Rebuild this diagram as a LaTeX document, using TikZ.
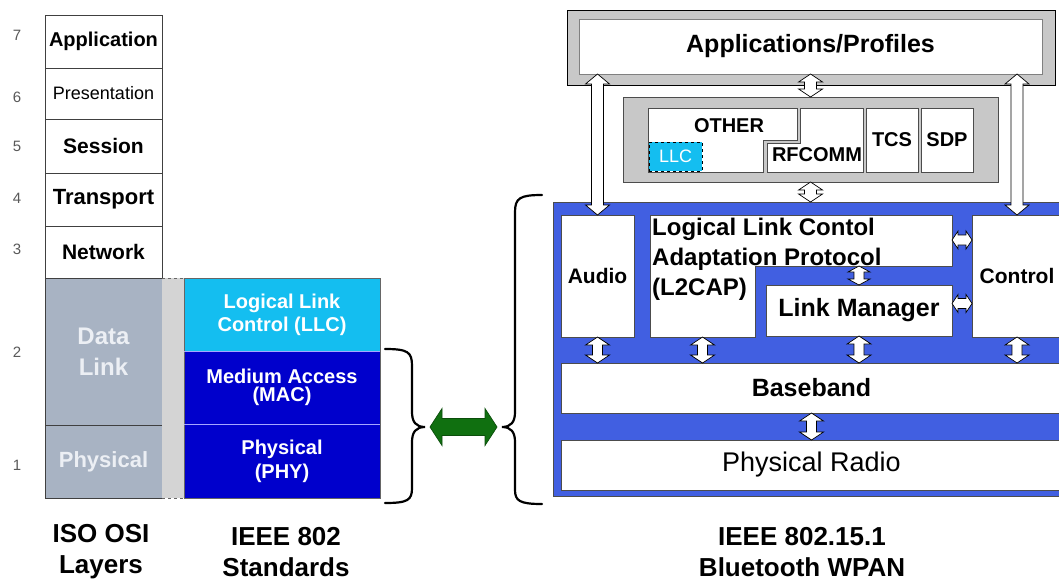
\documentclass[tikz,border=0pt]{standalone}
\usepackage{fontspec}
\setmainfont{Liberation Sans}
\usepackage{tikz}
\usetikzlibrary{calc}
\definecolor{osigray}{RGB}{168,179,195}
\definecolor{ositext}{RGB}{236,239,244}
\definecolor{stripgray}{RGB}{212,212,212}
\definecolor{llccyan}{RGB}{20,190,240}
\definecolor{macblue}{RGB}{0,0,204}
\definecolor{arrowgreen}{RGB}{16,112,16}
\definecolor{btblue}{RGB}{65,95,225}
\definecolor{framegray}{RGB}{200,200,200}
\tikzset{
    box/.style={draw=black!75, line width=0.8pt, anchor=north west, inner sep=0pt, outer sep=0pt, align=center},
    osi/.style={box, fill=white, minimum width=117pt},
    ieee/.style={box, draw=black!60, text=white, minimum width=196pt},
    wbox/.style={box, fill=white, draw=black!70},
    part/.style={fill=white, draw=black!70, line width=0.8pt},
    num/.style={text=black!65, font=\fontsize{15}{15}\selectfont},
    caption/.style={align=center, font=\bfseries\fontsize{26}{31}\selectfont},
    sepline/.style={draw=blue!35!white, line width=0.8pt},
    brace/.style={line width=2.2pt, line cap=round},
    fat/.style={draw=black, fill=white, line width=0.7pt, line join=miter}
}
% hollow double arrows: [style]{from}{to}{shaft half}{head half}{head length}
\newcommand{\vfat}[6][]{%
  \draw[fat,#1] let \p1=(#2), \p2=(#3) in
    (\x1,\y1) -- (\x1+#5pt,\y1-#6pt) -- (\x1+#4pt,\y1-#6pt) -- (\x1+#4pt,\y2+#6pt)
    -- (\x1+#5pt,\y2+#6pt) -- (\x1,\y2) -- (\x1-#5pt,\y2+#6pt) -- (\x1-#4pt,\y2+#6pt)
    -- (\x1-#4pt,\y1-#6pt) -- (\x1-#5pt,\y1-#6pt) -- cycle;}
\newcommand{\hfat}[6][]{%
  \draw[fat,#1] let \p1=(#2), \p2=(#3) in
    (\x1,\y1) -- (\x1+#6pt,\y1+#5pt) -- (\x1+#6pt,\y1+#4pt) -- (\x2-#6pt,\y1+#4pt)
    -- (\x2-#6pt,\y1+#5pt) -- (\x2,\y1) -- (\x2-#6pt,\y1-#5pt) -- (\x2-#6pt,\y1-#4pt)
    -- (\x1+#6pt,\y1-#4pt) -- (\x1+#6pt,\y1-#5pt) -- cycle;}

\begin{document}
\begin{tikzpicture}[x=1pt, y=-1pt]
    \path[use as bounding box, fill=white] (0,0) rectangle (1059,581);
    \clip (0,0) rectangle (1059,581);
    % === ISO OSI ===
    \node[osi, minimum height=53pt, font=\bfseries\fontsize{20}{22}\selectfont] (app) at (45,15) {Application};
    \node[osi, minimum height=51pt, font=\fontsize{18}{20}\selectfont] (pres) at (45,68) {Presentation};
    \node[osi, minimum height=54pt, font=\bfseries\fontsize{21}{22}\selectfont] (sess) at (45,119) {Session};
    \node[osi, minimum height=53pt, font=\bfseries\fontsize{22}{22}\selectfont] (trans) at (45,173) {Transport};
    \node[osi, minimum height=52pt, font=\bfseries\fontsize{21}{22}\selectfont] (net) at (45,226) {Network};
    \node[osi, fill=osigray, text=ositext, minimum height=147pt, font=\bfseries\fontsize{24}{31}\selectfont] (dlink) at (45,278) {Data\\Link};
    \node[osi, fill=osigray, text=ositext, minimum height=73pt, font=\bfseries\fontsize{22}{22}\selectfont] (phys) at (45,425) {Physical};
    \foreach \n/\y in {7/35,6/97,5/146,4/198,3/249,2/352,1/465}
        \node[num] (n\n) at (17,\y) {\n};
    \fill[stripgray] (162,278) rectangle (184,498);
    \draw[black!60, line width=0.8pt, dash pattern=on 3pt off 3pt] (162,278) -- (184,278) (162,498) -- (184,498);
    %
    % === IEEE 802 ===
    \node[ieee, fill=llccyan, minimum height=73pt, font=\bfseries\fontsize{20}{23}\selectfont] (llc) at (184,278) {Logical Link\\Control (LLC)};
    \node[ieee, fill=macblue, minimum height=73pt, font=\bfseries\fontsize{20}{18}\selectfont] (mac) at (184,351) {Medium Access\\(MAC)};
    \node[ieee, fill=macblue, minimum height=74pt, font=\bfseries\fontsize{20}{24}\selectfont] (phy) at (184,424) {Physical\\(PHY)};
    \draw[sepline] (mac.north west) -- (mac.north east) (phy.north west) -- (phy.north east);
    % braces and mapping arrow
    \draw[brace] (385,349) .. controls (408,349) and (412,352) .. (412,366) -- (412,412)
        .. controls (412,422) and (416,427) .. (425,427) coordinate (ltip)
        .. controls (416,427) and (412,432) .. (412,442) -- (412,488)
        .. controls (412,500) and (408,503) .. (385,503);
    \draw[brace] (542,195) .. controls (520,195) and (515,198) .. (515,212) -- (515,412)
        .. controls (515,422) and (511,427) .. (502,427) coordinate (rtip)
        .. controls (511,427) and (515,432) .. (515,442) -- (515,490)
        .. controls (515,501) and (520,504) .. (542,504);
    \hfat[fill=arrowgreen, draw=arrowgreen!70!black]{$(ltip)+(5,0)$}{$(rtip)+(-5,0)$}{8.5}{18.5}{12}
    %
    % === BLUETOOTH ===
    \node[box, fill=framegray, draw=black, minimum width=488pt, minimum height=75pt] (appout) at (567,10) {};
    \node[wbox, draw=black!50, minimum width=463pt, minimum height=55pt, font=\bfseries\fontsize{25}{25}\selectfont] (appin) at (579,19) {Applications/Profiles};
    \node[box, fill=framegray, draw=black!70, minimum width=375pt, minimum height=85pt] (mid) at (623,97) {};
    \draw[part] (648,108) -- (797,108) -- (797,140) -- (763,140) -- (763,172) -- (648,172) -- cycle;
    \draw[part] (800,108) -- (863,108) -- (863,172) -- (767,172) -- (767,143) -- (800,143) -- cycle;
    \node[font=\bfseries\fontsize{20}{20}\selectfont] (other) at (729,126) {OTHER};
    \node[font=\bfseries\fontsize{20}{20}\selectfont] (rfcomm) at (817,155) {RFCOMM};
    \node[wbox, minimum width=52pt, minimum height=64pt, font=\bfseries\fontsize{20}{20}\selectfont] (tcs) at (866,108) {TCS};
    \node[wbox, minimum width=52pt, minimum height=64pt, font=\bfseries\fontsize{20}{20}\selectfont] (sdp) at (921,108) {SDP};
    \node[box, fill=llccyan, draw=black, dashed, minimum width=53pt, minimum height=29pt, text=white, font=\fontsize{18}{18}\selectfont] (llcbt) at (649,142) {LLC};
    % core stack
    \node[box, fill=btblue, draw=black!70, minimum width=520pt, minimum height=294pt] (bt) at (553,202) {};
    \node[wbox, minimum width=73pt, minimum height=122pt, font=\bfseries\fontsize{21}{21}\selectfont] (audio) at (561,215) {Audio};
    \draw[part] (650,215) -- (952,215) -- (952,266) -- (755,266) -- (755,337) -- (650,337) -- cycle;
    \coordinate (l2east) at (952,240);
    \coordinate (l2step) at (859,266);
    \coordinate (l2foot) at (702.5,337);
    \node[anchor=north west, align=left, inner sep=0pt, font=\bfseries\fontsize{24}{30}\selectfont] (l2cap) at (652,218) {Logical Link Contol\\Adaptation Protocol\\(L2CAP)};
    \node[wbox, minimum width=186pt, minimum height=51pt, font=\bfseries\fontsize{25}{25}\selectfont] (lm) at (766,285) {Link Manager};
    \node[wbox, minimum width=90pt, minimum height=122pt, font=\bfseries\fontsize{21}{21}\selectfont] (ctrl) at (972,215) {Control};
    \node[wbox, minimum width=501pt, minimum height=50pt, font=\bfseries\fontsize{25}{25}\selectfont] (base) at (561,363) {Baseband};
    \node[wbox, minimum width=501pt, minimum height=50pt, font=\fontsize{27}{27}\selectfont] (radio) at (561,440) {Physical Radio};
    \coordinate (lmeast) at ($(lm.east)+(0,-7)$);
    % interface arrows
    \vfat{audio.north |- appin.south}{audio.north}{6}{12}{10}
    \vfat{ctrl.north |- appin.south}{ctrl.north}{6}{12}{10}
    \vfat{mid.north |- appin.south}{mid.north}{6}{12}{8}
    \vfat{mid.south}{mid.south |- bt.north}{6}{12}{8}
    \vfat{audio.south}{audio.south |- base.north}{5}{12}{8}
    \vfat{l2foot}{l2foot |- base.north}{5}{12}{8}
    \vfat{lm.south}{lm.south |- base.north}{5}{12}{8}
    \vfat{ctrl.south}{ctrl.south |- base.north}{5}{12}{8}
    \vfat{l2step}{lm.north}{5}{11}{6}
    \vfat{base.south}{radio.north}{5}{12}{8}
    \hfat{l2east}{l2east -| ctrl.west}{5}{9}{6}
    \hfat{lmeast}{lmeast -| ctrl.west}{5}{9}{6}
    %
    % === CAPTIONS ===
    \node[caption] (isocap) at (101,552) {ISO OSI\\Layers};
    \node[caption] (ieeecap) at (286,552) {IEEE 802\\Standards};
    \node[caption] (btcap) at (802,552) {IEEE 802.15.1\\Bluetooth WPAN};
\end{tikzpicture}
\end{document}
